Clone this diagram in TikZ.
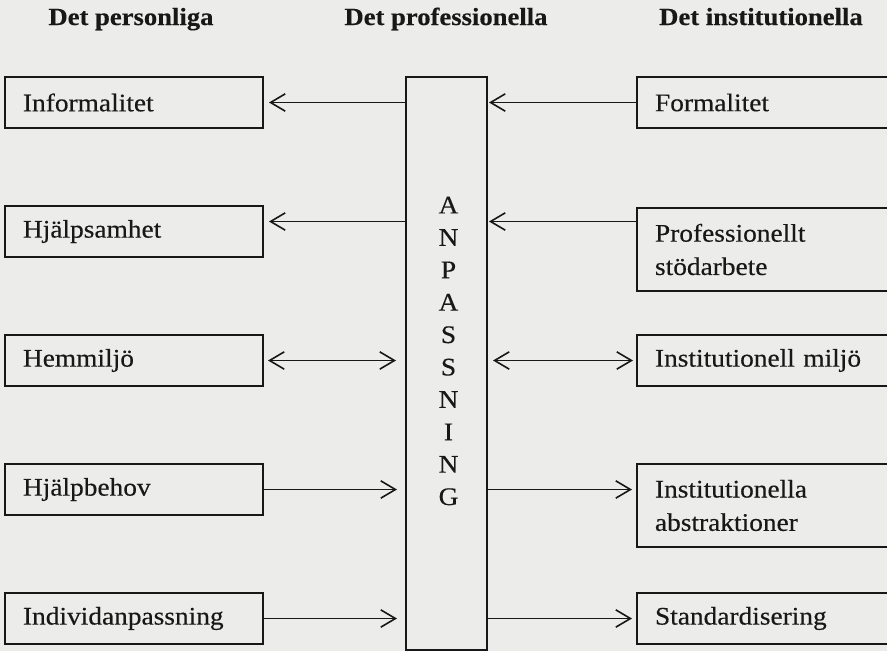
\documentclass[tikz,border=0pt]{standalone}
\usepackage{fontspec}
\setmainfont{Liberation Serif}[FakeStretch=1.08, FakeBold=0.35]
\usepackage{tikz}
\usetikzlibrary{positioning,arrows.meta}
\definecolor{paper-color}{RGB}{236, 236, 234}
\definecolor{ink-color}{RGB}{24, 24, 24}

\begin{document}
\begin{tikzpicture}[x=0.75pt, y=0.75pt, node distance=96.75pt, color=ink-color,
  font=\fontsize{19}{25}\selectfont,
  >={Straight Barb[length=11pt,width=13pt]},
  leftbox/.style={rectangle, draw, line width=1.5pt, minimum width=193.5pt, minimum height=38.25pt, text width=166.5pt, inner xsep=13.5pt, align=left},
  rightbox/.style={leftbox, minimum width=195pt, text width=168pt},
  tallbox/.style={rightbox, minimum height=62.25pt},
  midbox/.style={rectangle, draw, line width=1.5pt, minimum width=60.75pt, minimum height=429.75pt, inner sep=0pt},
  heading/.style={font=\fontsize{18.5}{21}\selectfont\bfseries, anchor=base},
  link/.style={line width=1.2pt}]
\useasboundingbox (0,0) rectangle (887,-651);
\clip (0,0) rectangle (887,-651);
\fill[paper-color] (0,0) rectangle (887,-651);

% rubriker
\node (personliga) [heading] at (131,-25) {Det personliga};
\node (professionella) [heading] at (446,-25) {Det professionella};
\node (institutionella) [heading] at (761,-25) {Det institutionella};

% det personliga
\node (informalitet) [leftbox] at (134,-102.5) {Informalitet};
\node (hjalpsamhet) [leftbox, below of=informalitet] {Hjälpsamhet};
\node (hemmiljo) [leftbox, below of=hjalpsamhet] {Hemmiljö};
\node (hjalpbehov) [leftbox, below of=hemmiljo] {Hjälpbehov};
\node (individ) [leftbox, below of=hjalpbehov] {Individanpassning};

% anpassning
\node (anpassning) [midbox, right=105.75pt of informalitet.north east, anchor=north west] {};
\node (bokstaver) [align=center, font=\fontsize{19}{24.3}\selectfont] at ([xshift=1.5pt, yshift=9.4pt]anpassning.center) {A\\N\\P\\A\\S\\S\\N\\I\\N\\G};

% det institutionella
\node (formalitet) [rightbox, right=279pt of informalitet] {Formalitet};
\node (stodarbete) [tallbox, right=279pt of hjalpsamhet.north east, anchor=north west, yshift=-1.5pt] {Professionellt\\stödarbete};
\node (miljo) [rightbox, right=279pt of hemmiljo] {Institutionell miljö};
\node (abstraktioner) [tallbox, right=279pt of hjalpbehov.north east, anchor=north west] {Institutionella\\abstraktioner};
\node (standard) [rightbox, right=279pt of individ] {Standardisering};

\coordinate (rad2) at ([yshift=7.5pt]hjalpsamhet.east);

\draw[link, ->, shorten >=3.75pt] (informalitet.east -| anpassning.west) -- (informalitet.east);
\draw[link, ->, shorten >=0.75pt] (formalitet.west) -- (formalitet.west -| anpassning.east);
\draw[link, ->, shorten >=3.75pt] (rad2 -| anpassning.west) -- (rad2);
\draw[link, ->, shorten >=0.75pt] (rad2 -| stodarbete.west) -- (rad2 -| anpassning.east);
\draw[link, <->, shorten <=3pt, shorten >=6.75pt] (hemmiljo.east) -- (hemmiljo.east -| anpassning.west);
\draw[link, <->, shorten <=3.75pt, shorten >=2.25pt] (hemmiljo.east -| anpassning.east) -- (hemmiljo.east -| miljo.west);
\draw[link, ->, shorten >=6pt] (hjalpbehov.east) -- (hjalpbehov.east -| anpassning.west);
\draw[link, ->, shorten >=3pt] (hjalpbehov.east -| anpassning.east) -- (hjalpbehov.east -| abstraktioner.west);
\draw[link, ->, shorten >=6pt] (individ.east) -- (individ.east -| anpassning.west);
\draw[link, ->, shorten >=3pt] (individ.east -| anpassning.east) -- (individ.east -| standard.west);
\end{tikzpicture}
\end{document}
